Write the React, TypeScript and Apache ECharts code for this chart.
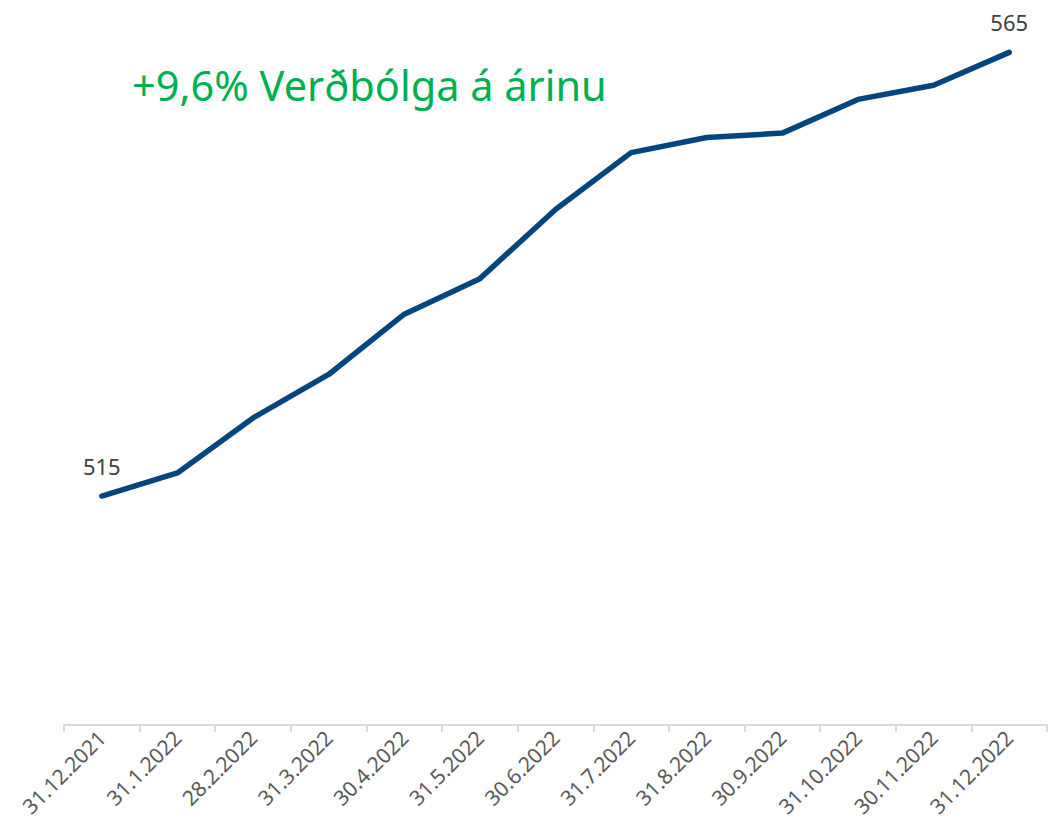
import React, { useEffect, useRef } from "react";
import * as echarts from "echarts";

const categories = [
  "31.12.2021", "31.1.2022", "28.2.2022", "31.3.2022", "30.4.2022", "31.5.2022",
  "30.6.2022", "31.7.2022", "31.8.2022", "30.9.2022", "31.10.2022", "30.11.2022", "31.12.2022",
];
const values = [515, 517.6, 523.8, 528.7, 535.5, 539.5, 547.3, 553.7, 555.4, 555.9, 559.7, 561.3, 565];
const labeledIdx = [0, 12];
const titleText = "+9,6% Verðbólga á árinu";

export default function App() {
  const ref = useRef<HTMLDivElement>(null);
  useEffect(() => {
    document.body.style.margin = "0";
    if (!ref.current) return;
    const chart = echarts.init(ref.current, undefined, { renderer: "svg" });
    const font = "'Noto Sans', sans-serif";
    chart.setOption({
      animation: false,
      grid: { left: 64, right: 8, top: 8, bottom: 108 },
      xAxis: {
        type: "category",
        data: categories,
        boundaryGap: true,
        axisLine: { lineStyle: { color: "#d9d9d9", width: 2 } },
        axisTick: { show: true, length: 7, lineStyle: { color: "#d9d9d9", width: 2 }, interval: 0 },
        axisLabel: {
          interval: 0,
          rotate: 45,
          color: "#595959",
          fontSize: 21,
          fontFamily: font,
          margin: 9,
        },
      },
      yAxis: {
        type: "value",
        min: 489.2,
        max: 570,
        show: false,
        splitLine: { show: false },
      },
      series: [
        {
          type: "line",
          data: values.map((v, i) =>
            labeledIdx.includes(i)
              ? {
                  value: v,
                  label: {
                    show: true,
                    position: "top",
                    distance: 19,
                    color: "#404040",
                    fontSize: 22,
                    fontFamily: font,
                    formatter: (p: any) => String(Math.round(p.value)),
                  },
                }
              : v
          ),
          symbol: "circle",
          symbolSize: 0,
          showSymbol: true,
          itemStyle: { color: "#03467f" },
          lineStyle: { color: "#03467f", width: 5.5, cap: "round", join: "round" },
          labelLayout: { hideOverlap: false },
        },
      ],
      graphic: [
        {
          type: "text",
          left: 132,
          top: 64,
          style: {
            text: titleText,
            fill: "#00b050",
            fontSize: 41.5,
            fontFamily: font,
          },
        },
      ],
    });
    return () => chart.dispose();
  }, []);
  return <div ref={ref} style={{ width: 1055, height: 833 }} />;
}
